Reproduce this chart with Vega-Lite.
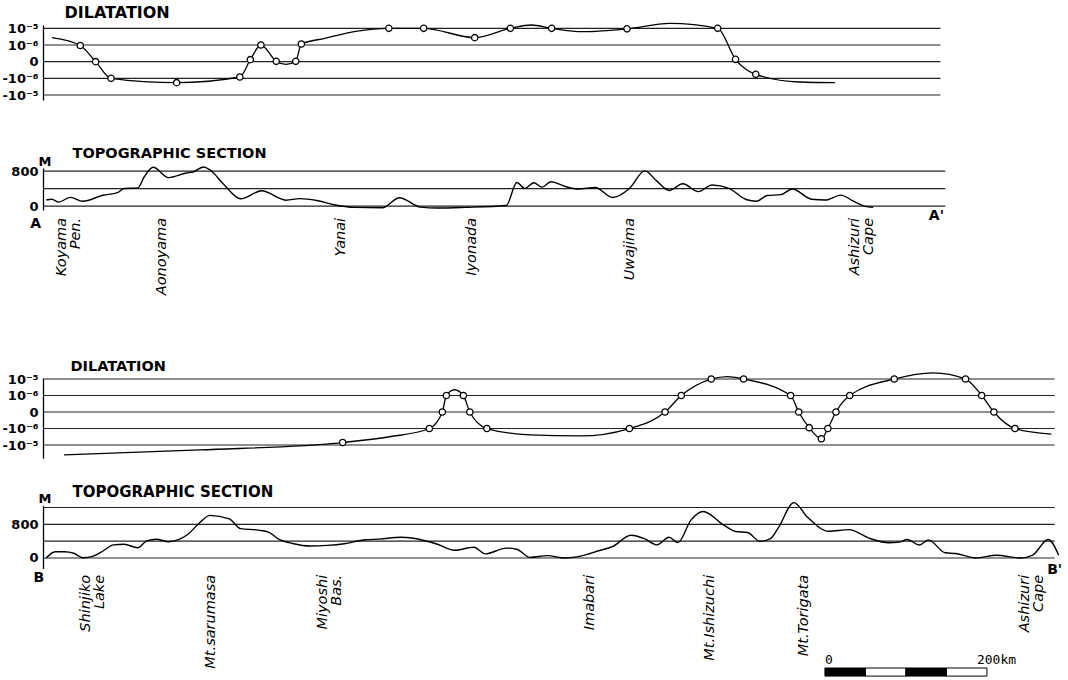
{
  "$schema": "https://vega.github.io/schema/vega-lite/v6.json",
  "width": 1068,
  "height": 680,
  "autosize": "none",
  "padding": 0,
  "background": "white",
  "config": {
    "view": {"stroke": null},
    "axis": {
      "domainColor": "black", "domainWidth": 1.3,
      "labelColor": "black", "labelFont": "DejaVu Sans", "labelFontWeight": "bold", "labelFontSize": 13,
      "labelPadding": 5, "labelOverlap": false, "labelFlush": false,
      "ticks": false, "grid": false,
      "titleColor": "black", "titleFont": "DejaVu Sans", "titleFontWeight": "bold",
      "titleAngle": 0, "titleAlign": "left", "titleBaseline": "alphabetic"
    }
  },
  "datasets": {
    "dilA": [
      {"km": 11, "v": 1.44, "pt": false}, {"km": 46, "v": 0.97, "pt": true}, {"km": 65, "v": 0, "pt": true},
      {"km": 84, "v": -1, "pt": true}, {"km": 165, "v": -1.26, "pt": true}, {"km": 243, "v": -0.92, "pt": true},
      {"km": 256, "v": 0.12, "pt": true}, {"km": 269, "v": 1, "pt": true}, {"km": 288, "v": 0.02, "pt": true},
      {"km": 300, "v": -0.16, "pt": false}, {"km": 312, "v": 0.02, "pt": true}, {"km": 319, "v": 1.06, "pt": true},
      {"km": 348, "v": 1.4, "pt": false}, {"km": 386, "v": 1.82, "pt": false}, {"km": 427, "v": 2, "pt": true},
      {"km": 470, "v": 2, "pt": true}, {"km": 533, "v": 1.44, "pt": true}, {"km": 577, "v": 2, "pt": true},
      {"km": 603, "v": 2.2, "pt": false}, {"km": 628, "v": 2, "pt": true}, {"km": 667, "v": 1.8, "pt": false},
      {"km": 721, "v": 1.97, "pt": true}, {"km": 774, "v": 2.3, "pt": false}, {"km": 833, "v": 2, "pt": true},
      {"km": 855, "v": 0.14, "pt": true}, {"km": 880, "v": -0.76, "pt": true}, {"km": 934, "v": -1.22, "pt": false},
      {"km": 978, "v": -1.26, "pt": false}
    ],
    "topoA": [
      {"km": 4, "m": 140}, {"km": 11, "m": 155}, {"km": 19, "m": 91}, {"km": 34, "m": 198}, {"km": 49, "m": 110},
      {"km": 74, "m": 247}, {"km": 92, "m": 307}, {"km": 100, "m": 400}, {"km": 117, "m": 413}, {"km": 125, "m": 670},
      {"km": 136, "m": 888}, {"km": 155, "m": 650}, {"km": 177, "m": 757}, {"km": 185, "m": 779}, {"km": 198, "m": 894},
      {"km": 206, "m": 830}, {"km": 223, "m": 499}, {"km": 244, "m": 166}, {"km": 270, "m": 350}, {"km": 300, "m": 134},
      {"km": 317, "m": 171}, {"km": 338, "m": 128}, {"km": 359, "m": 31}, {"km": 385, "m": -30}, {"km": 419, "m": -40},
      {"km": 440, "m": 191}, {"km": 466, "m": -25}, {"km": 487, "m": -45}, {"km": 521, "m": -30}, {"km": 572, "m": 14},
      {"km": 585, "m": 537}, {"km": 595, "m": 402}, {"km": 606, "m": 533}, {"km": 616, "m": 433}, {"km": 627, "m": 556},
      {"km": 644, "m": 453}, {"km": 661, "m": 389}, {"km": 682, "m": 424}, {"km": 703, "m": 196}, {"km": 724, "m": 402},
      {"km": 743, "m": 804}, {"km": 758, "m": 569}, {"km": 773, "m": 357}, {"km": 790, "m": 510}, {"km": 809, "m": 329},
      {"km": 826, "m": 483}, {"km": 847, "m": 402}, {"km": 868, "m": 150}, {"km": 881, "m": 110}, {"km": 894, "m": 240},
      {"km": 911, "m": 261}, {"km": 925, "m": 391}, {"km": 949, "m": 155}, {"km": 966, "m": 137}, {"km": 985, "m": 251},
      {"km": 1000, "m": 117}, {"km": 1014, "m": 0}, {"km": 1025, "m": -30}
    ],
    "dilB": [
      {"km": 26, "v": -2.6, "pt": false}, {"km": 194, "v": -2.3, "pt": false}, {"km": 370, "v": -1.85, "pt": true},
      {"km": 428, "v": -1.5, "pt": false}, {"km": 477, "v": -1, "pt": true}, {"km": 493, "v": 0, "pt": true},
      {"km": 498, "v": 1, "pt": true}, {"km": 508, "v": 1.35, "pt": false}, {"km": 519, "v": 1, "pt": true},
      {"km": 527, "v": 0, "pt": true}, {"km": 548, "v": -1, "pt": true}, {"km": 601, "v": -1.38, "pt": false},
      {"km": 663, "v": -1.45, "pt": false}, {"km": 724, "v": -1, "pt": true}, {"km": 768, "v": 0, "pt": true},
      {"km": 788, "v": 1, "pt": true}, {"km": 825, "v": 2, "pt": true}, {"km": 845, "v": 2.15, "pt": false},
      {"km": 865, "v": 2, "pt": true}, {"km": 923, "v": 1, "pt": true}, {"km": 933, "v": 0, "pt": true},
      {"km": 946, "v": -0.95, "pt": true}, {"km": 961, "v": -1.62, "pt": true}, {"km": 969, "v": -1, "pt": true},
      {"km": 979, "v": 0, "pt": true}, {"km": 996, "v": 1, "pt": true}, {"km": 1051, "v": 2, "pt": true},
      {"km": 1099, "v": 2.37, "pt": false}, {"km": 1139, "v": 2, "pt": true}, {"km": 1159, "v": 1, "pt": true},
      {"km": 1174, "v": 0, "pt": true}, {"km": 1200, "v": -1, "pt": true}, {"km": 1245, "v": -1.34, "pt": false}
    ],
    "topoB": [
      {"km": 4, "m": 0}, {"km": 15, "m": 148}, {"km": 26, "m": 147}, {"km": 38, "m": 113}, {"km": 49, "m": 5},
      {"km": 62, "m": 45}, {"km": 74, "m": 166}, {"km": 87, "m": 312}, {"km": 100, "m": 327}, {"km": 117, "m": 244},
      {"km": 128, "m": 407}, {"km": 140, "m": 446}, {"km": 155, "m": 387}, {"km": 168, "m": 443}, {"km": 179, "m": 565},
      {"km": 194, "m": 850}, {"km": 206, "m": 1013}, {"km": 230, "m": 928}, {"km": 244, "m": 697}, {"km": 266, "m": 662},
      {"km": 279, "m": 611}, {"km": 291, "m": 446}, {"km": 308, "m": 345}, {"km": 330, "m": 285}, {"km": 351, "m": 299},
      {"km": 372, "m": 339}, {"km": 398, "m": 434}, {"km": 415, "m": 449}, {"km": 442, "m": 494}, {"km": 457, "m": 468},
      {"km": 487, "m": 326}, {"km": 508, "m": 184}, {"km": 532, "m": 255}, {"km": 546, "m": 98}, {"km": 572, "m": 235},
      {"km": 585, "m": 208}, {"km": 601, "m": 15}, {"km": 623, "m": 55}, {"km": 644, "m": 0}, {"km": 665, "m": 50},
      {"km": 686, "m": 172}, {"km": 703, "m": 269}, {"km": 726, "m": 539}, {"km": 743, "m": 454}, {"km": 758, "m": 312},
      {"km": 773, "m": 492}, {"km": 784, "m": 367}, {"km": 800, "m": 901}, {"km": 815, "m": 1106}, {"km": 841, "m": 773},
      {"km": 855, "m": 631}, {"km": 870, "m": 605}, {"km": 885, "m": 397}, {"km": 898, "m": 461}, {"km": 908, "m": 723},
      {"km": 927, "m": 1316}, {"km": 944, "m": 967}, {"km": 970, "m": 634}, {"km": 995, "m": 673}, {"km": 1021, "m": 464},
      {"km": 1044, "m": 362}, {"km": 1057, "m": 377}, {"km": 1067, "m": 441}, {"km": 1082, "m": 308}, {"km": 1093, "m": 431},
      {"km": 1114, "m": 123}, {"km": 1127, "m": 105}, {"km": 1152, "m": 0}, {"km": 1177, "m": 66}, {"km": 1207, "m": 0},
      {"km": 1222, "m": 70}, {"km": 1241, "m": 438}, {"km": 1254, "m": 66}
    ],
    "placesA": [
      {"km": 23, "name": ["Koyama", "Pen."]}, {"km": 147, "name": ["Aonoyama"]}, {"km": 368, "name": ["Yanai"]},
      {"km": 530, "name": ["Iyonada"]}, {"km": 725, "name": ["Uwajima"]}, {"km": 1003, "name": ["Ashizuri", "Cape"]}
    ],
    "placesB": [
      {"km": 53, "name": ["Shinjiko", "Lake"]}, {"km": 207, "name": ["Mt.sarumasa"]}, {"km": 346, "name": ["Miyoshi", "Bas."]},
      {"km": 675, "name": ["Imabari"]}, {"km": 823, "name": ["Mt.Ishizuchi"]}, {"km": 939, "name": ["Mt.Torigata"]},
      {"km": 1213, "name": ["Ashizuri", "Cape"]}
    ],
    "scalebar": [{"seg": 1, "k0": 965.4, "k1": 1015.4}, {"seg": 2, "k0": 1015.4, "k1": 1065.4}, {"seg": 3, "k0": 1065.4, "k1": 1115.4}, {"seg": 4, "k0": 1115.4, "k1": 1165.4}]
  },
  "layer": [
    {
      "layer": [
        {
          "data": {"values": [{"g": -2}, {"g": -1}, {"g": 0}, {"g": 1}, {"g": 2}]},
          "mark": {"type": "rule", "color": "#222", "strokeWidth": 1.2},
          "encoding": {
            "y": {"field": "g", "type": "quantitative", "scale": {"domain": [-2.3, 2.2], "range": [100, 25], "nice": false, "zero": false}},
            "x": {"datum": 0, "type": "quantitative", "scale": {"domain": [-53.09, 1265.5], "nice": false, "zero": false}, "axis": null},
            "x2": {"datum": 1108}
          }
        },
        {
          "data": {"name": "dilA"},
          "mark": {"type": "line", "color": "black", "strokeWidth": 1.3, "interpolate": "monotone"},
          "encoding": {
            "x": {"field": "km", "type": "quantitative", "scale": {"domain": [-53.09, 1265.5], "nice": false, "zero": false}, "axis": null},
            "y": {"field": "v", "type": "quantitative", "scale": {"domain": [-2.3, 2.2], "range": [100, 25], "nice": false, "zero": false},
              "axis": {"orient": "left", "offset": -43, "values": [-2, -1, 0, 1, 2],
                "labelExpr": "datum.value == 2 ? '10⁻⁵' : datum.value == 1 ? '10⁻⁶' : datum.value == 0 ? '0' : datum.value == -1 ? '-10⁻⁶' : '-10⁻⁵'",
                "title": "DILATATION", "titleX": 21, "titleY": 17, "titleFontSize": 16}}
          }
        },
        {
          "data": {"name": "dilA"},
          "transform": [{"filter": "datum.pt"}],
          "mark": {"type": "point", "shape": "circle", "filled": true, "fill": "white", "stroke": "black", "strokeWidth": 1.3, "size": 40, "opacity": 1},
          "encoding": {
            "x": {"field": "km", "type": "quantitative", "scale": {"domain": [-53.09, 1265.5], "nice": false, "zero": false}, "axis": null},
            "y": {"field": "v", "type": "quantitative", "scale": {"domain": [-2.3, 2.2], "range": [100, 25], "nice": false, "zero": false}}
          }
        }
      ]
    },
    {
      "layer": [
        {
          "data": {"values": [{"g": 0}, {"g": 400}, {"g": 800}]},
          "mark": {"type": "rule", "color": "#222", "strokeWidth": 1.2},
          "encoding": {
            "y": {"field": "g", "type": "quantitative", "scale": {"domain": [-90, 870], "range": [210, 168], "nice": false, "zero": false}},
            "x": {"datum": 0, "type": "quantitative", "scale": {"domain": [-53.09, 1265.5], "nice": false, "zero": false}, "axis": null},
            "x2": {"datum": 1114}
          }
        },
        {
          "data": {"name": "topoA"},
          "mark": {"type": "line", "color": "black", "strokeWidth": 1.4, "interpolate": "monotone"},
          "encoding": {
            "x": {"field": "km", "type": "quantitative", "scale": {"domain": [-53.09, 1265.5], "nice": false, "zero": false}, "axis": null},
            "y": {"field": "m", "type": "quantitative", "scale": {"domain": [-90, 870], "range": [210, 168], "nice": false, "zero": false},
              "axis": {"orient": "left", "offset": -43, "values": [0, 800, 870],
                "labelExpr": "datum.value > 850 ? 'M' : datum.label",
                "labelAlign": {"condition": {"test": "datum.value > 850", "value": "left"}, "value": "right"},
                "labelBaseline": {"condition": {"test": "datum.value > 850", "value": "bottom"}, "value": "middle"},
                "title": "TOPOGRAPHIC SECTION", "titleX": 29, "titleY": 157, "titleFontSize": 14.5}}
          }
        },
        {
          "data": {"name": "placesA"},
          "mark": {"type": "text", "angle": 270, "align": "right", "baseline": "middle", "font": "DejaVu Sans", "fontStyle": "italic", "fontSize": 14.5, "lineHeight": 14, "color": "black"},
          "encoding": {
            "x": {"field": "km", "type": "quantitative", "scale": {"domain": [-53.09, 1265.5], "nice": false, "zero": false}, "axis": null},
            "y": {"datum": -270, "type": "quantitative", "scale": {"domain": [-90, 870], "range": [210, 168], "nice": false, "zero": false}},
            "text": {"field": "name", "type": "nominal"}
          }
        },
        {
          "data": {"values": [{"km": -9, "t": "A"}]},
          "mark": {"type": "text", "align": "center", "baseline": "middle", "font": "DejaVu Sans", "fontWeight": "bold", "fontSize": 14, "color": "black"},
          "encoding": {
            "x": {"field": "km", "type": "quantitative", "scale": {"domain": [-53.09, 1265.5], "nice": false, "zero": false}, "axis": null},
            "y": {"datum": -410, "type": "quantitative", "scale": {"domain": [-90, 870], "range": [210, 168], "nice": false, "zero": false}},
            "text": {"field": "t", "type": "nominal"}
          }
        },
        {
          "data": {"values": [{"km": 1103, "t": "A'"}]},
          "mark": {"type": "text", "align": "center", "baseline": "middle", "font": "DejaVu Sans", "fontWeight": "bold", "fontSize": 14, "color": "black"},
          "encoding": {
            "x": {"field": "km", "type": "quantitative", "scale": {"domain": [-53.09, 1265.5], "nice": false, "zero": false}, "axis": null},
            "y": {"datum": -225, "type": "quantitative", "scale": {"domain": [-90, 870], "range": [210, 168], "nice": false, "zero": false}},
            "text": {"field": "t", "type": "nominal"}
          }
        }
      ]
    },
    {
      "layer": [
        {
          "data": {"values": [{"g": -2}, {"g": -1}, {"g": 0}, {"g": 1}, {"g": 2}]},
          "mark": {"type": "rule", "color": "#222", "strokeWidth": 1.2},
          "encoding": {
            "y": {"field": "g", "type": "quantitative", "scale": {"domain": [-2.8, 2.05], "range": [458.2, 378.2], "nice": false, "zero": false}},
            "x": {"datum": 0, "type": "quantitative", "scale": {"domain": [-53.09, 1265.5], "nice": false, "zero": false}, "axis": null},
            "x2": {"datum": 1249}
          }
        },
        {
          "data": {"name": "dilB"},
          "mark": {"type": "line", "color": "black", "strokeWidth": 1.3, "interpolate": "monotone"},
          "encoding": {
            "x": {"field": "km", "type": "quantitative", "scale": {"domain": [-53.09, 1265.5], "nice": false, "zero": false}, "axis": null},
            "y": {"field": "v", "type": "quantitative", "scale": {"domain": [-2.8, 2.05], "range": [458.2, 378.2], "nice": false, "zero": false},
              "axis": {"orient": "left", "offset": -43, "values": [-2, -1, 0, 1, 2],
                "labelExpr": "datum.value == 2 ? '10⁻⁵' : datum.value == 1 ? '10⁻⁶' : datum.value == 0 ? '0' : datum.value == -1 ? '-10⁻⁶' : '-10⁻⁵'",
                "title": "DILATATION", "titleX": 27, "titleY": 370, "titleFontSize": 14.5}}
          }
        },
        {
          "data": {"name": "dilB"},
          "transform": [{"filter": "datum.pt"}],
          "mark": {"type": "point", "shape": "circle", "filled": true, "fill": "white", "stroke": "black", "strokeWidth": 1.3, "size": 40, "opacity": 1},
          "encoding": {
            "x": {"field": "km", "type": "quantitative", "scale": {"domain": [-53.09, 1265.5], "nice": false, "zero": false}, "axis": null},
            "y": {"field": "v", "type": "quantitative", "scale": {"domain": [-2.8, 2.05], "range": [458.2, 378.2], "nice": false, "zero": false}}
          }
        }
      ]
    },
    {
      "layer": [
        {
          "data": {"values": [{"g": 0}, {"g": 400}, {"g": 800}, {"g": 1200}]},
          "mark": {"type": "rule", "color": "#222", "strokeWidth": 1.2},
          "encoding": {
            "y": {"field": "g", "type": "quantitative", "scale": {"domain": [-250, 1250], "range": [568.5, 505.4], "nice": false, "zero": false}},
            "x": {"datum": 0, "type": "quantitative", "scale": {"domain": [-53.09, 1265.5], "nice": false, "zero": false}, "axis": null},
            "x2": {"datum": 1249}
          }
        },
        {
          "data": {"name": "topoB"},
          "mark": {"type": "line", "color": "black", "strokeWidth": 1.4, "interpolate": "monotone"},
          "encoding": {
            "x": {"field": "km", "type": "quantitative", "scale": {"domain": [-53.09, 1265.5], "nice": false, "zero": false}, "axis": null},
            "y": {"field": "m", "type": "quantitative", "scale": {"domain": [-250, 1250], "range": [568.5, 505.4], "nice": false, "zero": false},
              "axis": {"orient": "left", "offset": -43, "values": [0, 800, 1250],
                "labelExpr": "datum.value > 1200 ? 'M' : datum.label",
                "labelAlign": {"condition": {"test": "datum.value > 1200", "value": "left"}, "value": "right"},
                "labelBaseline": {"condition": {"test": "datum.value > 1200", "value": "bottom"}, "value": "middle"},
                "title": "TOPOGRAPHIC SECTION", "titleX": 29, "titleY": 496, "titleFontSize": 15}}
          }
        },
        {
          "data": {"name": "placesB"},
          "mark": {"type": "text", "angle": 270, "align": "right", "baseline": "middle", "font": "DejaVu Sans", "fontStyle": "italic", "fontSize": 14.5, "lineHeight": 14, "color": "black"},
          "encoding": {
            "x": {"field": "km", "type": "quantitative", "scale": {"domain": [-53.09, 1265.5], "nice": false, "zero": false}, "axis": null},
            "y": {"datum": -400, "type": "quantitative", "scale": {"domain": [-250, 1250], "range": [568.5, 505.4], "nice": false, "zero": false}},
            "text": {"field": "name", "type": "nominal"}
          }
        },
        {
          "data": {"values": [{"km": -5, "t": "B"}]},
          "mark": {"type": "text", "align": "center", "baseline": "middle", "font": "DejaVu Sans", "fontWeight": "bold", "fontSize": 14, "color": "black"},
          "encoding": {
            "x": {"field": "km", "type": "quantitative", "scale": {"domain": [-53.09, 1265.5], "nice": false, "zero": false}, "axis": null},
            "y": {"datum": -475, "type": "quantitative", "scale": {"domain": [-250, 1250], "range": [568.5, 505.4], "nice": false, "zero": false}},
            "text": {"field": "t", "type": "nominal"}
          }
        },
        {
          "data": {"values": [{"km": 1249, "t": "B'"}]},
          "mark": {"type": "text", "align": "center", "baseline": "middle", "font": "DejaVu Sans", "fontWeight": "bold", "fontSize": 14, "color": "black"},
          "encoding": {
            "x": {"field": "km", "type": "quantitative", "scale": {"domain": [-53.09, 1265.5], "nice": false, "zero": false}, "axis": null},
            "y": {"datum": -290, "type": "quantitative", "scale": {"domain": [-250, 1250], "range": [568.5, 505.4], "nice": false, "zero": false}},
            "text": {"field": "t", "type": "nominal"}
          }
        }
      ]
    },
    {
      "layer": [
        {
          "data": {"name": "scalebar"},
          "mark": {"type": "rect", "stroke": "black", "strokeWidth": 1},
          "encoding": {
            "x": {"field": "k0", "type": "quantitative", "scale": {"domain": [-53.09, 1265.5], "nice": false, "zero": false}, "axis": null},
            "x2": {"field": "k1"},
            "y": {"datum": 0.13, "type": "quantitative", "scale": {"domain": [0, 1], "range": [680, 650], "nice": false, "zero": false}, "axis": null},
            "y2": {"datum": 0.4},
            "fill": {"condition": {"test": "datum.seg % 2 == 1", "value": "black"}, "value": "white"}
          }
        },
        {
          "data": {"values": [{"km": 965.4, "t": "0"}]},
          "mark": {"type": "text", "align": "left", "baseline": "alphabetic", "font": "DejaVu Sans Mono", "fontSize": 13, "color": "black"},
          "encoding": {
            "x": {"field": "km", "type": "quantitative", "scale": {"domain": [-53.09, 1265.5], "nice": false, "zero": false}, "axis": null},
            "y": {"datum": 0.55, "type": "quantitative", "scale": {"domain": [0, 1], "range": [680, 650], "nice": false, "zero": false}, "axis": null},
            "text": {"field": "t", "type": "nominal"}
          }
        },
        {
          "data": {"values": [{"km": 1165.4, "t": "200km"}]},
          "mark": {"type": "text", "align": "left", "baseline": "alphabetic", "dx": -10, "font": "DejaVu Sans Mono", "fontSize": 13, "color": "black"},
          "encoding": {
            "x": {"field": "km", "type": "quantitative", "scale": {"domain": [-53.09, 1265.5], "nice": false, "zero": false}, "axis": null},
            "y": {"datum": 0.55, "type": "quantitative", "scale": {"domain": [0, 1], "range": [680, 650], "nice": false, "zero": false}, "axis": null},
            "text": {"field": "t", "type": "nominal"}
          }
        }
      ]
    }
  ],
  "resolve": {"scale": {"y": "independent"}}
}
